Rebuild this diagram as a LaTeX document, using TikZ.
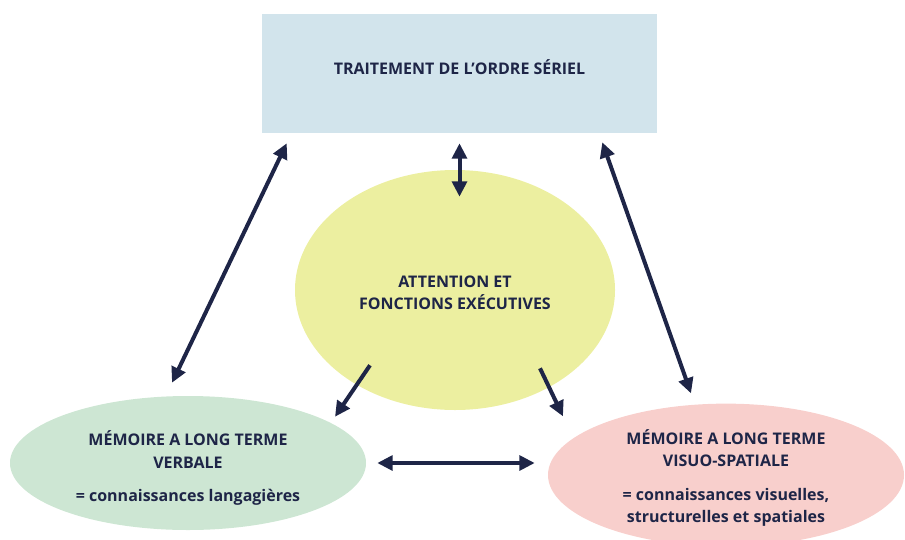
\documentclass[tikz,border=0pt]{standalone}
\usepackage{fontspec}
\setmainfont{Open Sans}
\usetikzlibrary{shapes.geometric, arrows.meta}
\definecolor{navy}{HTML}{1E2547}
\definecolor{boxblue}{HTML}{D2E4EC}
\definecolor{attnyellow}{HTML}{ECEFA0}
\definecolor{verbgreen}{HTML}{CDE6D3}
\definecolor{visupink}{HTML}{F8CFCC}
\newcommand{\lowered}[2]{\raisebox{#1}[\height][\depth]{\begin{tabular}{@{}c@{}}#2\end{tabular}}}
\tikzstyle{label}=[text=navy, font=\bfseries\fontsize{12}{16.8}\selectfont, align=center, inner sep=0pt]
\tikzstyle{blob}=[label, ellipse]
\tikzstyle{link}=[navy, line width=3pt, -{Triangle[length=11.5pt, width=11pt]}]
\tikzstyle{dbllink}=[link, {Triangle[length=11.5pt, width=11pt]}-{Triangle[length=11.5pt, width=11pt]}]

\begin{document}
\begin{tikzpicture}[x=0.75pt, y=-0.75pt]
				\useasboundingbox (0,0) rectangle (905,539);
				\clip (0,0) rectangle (905,539);

				\node[label, fill=boxblue, minimum width=296.25pt, minimum height=89.25pt] (serial) at (459.5,73.5) {\lowered{2.5pt}{TRAITEMENT DE L'ORDRE SÉRIEL}};
				\node[blob, fill=attnyellow, minimum width=240pt, minimum height=180pt] (attn) at (455,290) {\lowered{-3pt}{ATTENTION ET\\FONCTIONS EXÉCUTIVES}};
				\node[blob, fill=verbgreen, minimum width=267pt, minimum height=100.5pt] (verbal) at (188,463) {\lowered{-4.5pt}{MÉMOIRE A LONG TERME\\VERBALE\\[8pt]= connaissances langagières}};
				\node[blob, fill=visupink, minimum width=267pt, minimum height=105pt] (visuo) at (726,475) {\lowered{-3pt}{MÉMOIRE A LONG TERME\\VISUO-SPATIALE\\[8.5pt]= connaissances visuelles,\\structurelles et spatiales}};

				\draw[dbllink] ([yshift=-7.5pt]serial.south) -- ([yshift=-20.25pt]serial.south |- attn.north);
				\draw[dbllink] ([xshift=18.75pt, yshift=-7.5pt]serial.south west) -- ([xshift=-12pt, yshift=9.75pt]verbal.north);
				\draw[dbllink] ([xshift=-41.25pt, yshift=-6.75pt]serial.south east) -- ([xshift=-26.25pt, yshift=7.5pt]visuo.north);
				\draw[dbllink] ([xshift=8.25pt]verbal.east) -- ([xshift=-9.75pt]verbal.east -| visuo.west);
				\draw[link] ([xshift=-63.75pt, yshift=33.75pt]attn.south) -- ([xshift=110.25pt, yshift=-15.75pt]verbal.north);
				\draw[link] ([xshift=63.75pt, yshift=31.5pt]attn.south) -- ([xshift=-122.25pt, yshift=-9.75pt]visuo.north);
			\end{tikzpicture}
\end{document}
